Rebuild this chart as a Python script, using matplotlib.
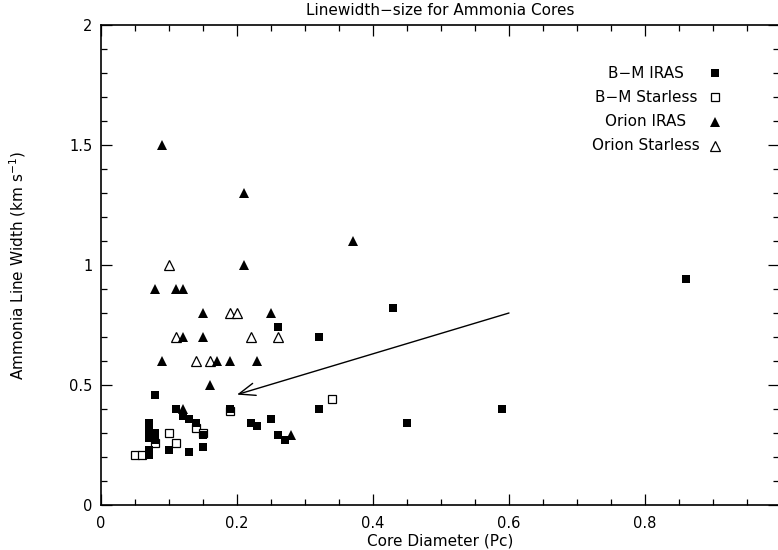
import matplotlib
matplotlib.use("Agg")
import matplotlib.pyplot as plt
from matplotlib.ticker import MultipleLocator, FixedLocator

# Core diameter (pc) and NH3 line width (km/s) for each sample
bm_iras_size = [0.07, 0.07, 0.07, 0.07, 0.07, 0.08, 0.08, 0.08, 0.10, 0.11,
                0.12, 0.13, 0.13, 0.14, 0.15, 0.15, 0.19, 0.22, 0.23, 0.25,
                0.26, 0.27, 0.26, 0.32, 0.32, 0.43, 0.45, 0.59, 0.86]
bm_iras_width = [0.34, 0.31, 0.28, 0.23, 0.21, 0.30, 0.27, 0.46, 0.23, 0.40,
                 0.37, 0.36, 0.22, 0.34, 0.29, 0.24, 0.40, 0.34, 0.33, 0.36,
                 0.29, 0.27, 0.74, 0.70, 0.40, 0.82, 0.34, 0.40, 0.94]

bm_starless_size = [0.05, 0.06, 0.08, 0.10, 0.11, 0.14, 0.15, 0.19, 0.34]
bm_starless_width = [0.21, 0.21, 0.26, 0.30, 0.26, 0.32, 0.30, 0.39, 0.44]

orion_iras_size = [0.09, 0.21, 0.37, 0.21, 0.08, 0.11, 0.12, 0.15, 0.25,
                   0.12, 0.15, 0.09, 0.17, 0.19, 0.23, 0.16, 0.12, 0.28]
orion_iras_width = [1.50, 1.30, 1.10, 1.00, 0.90, 0.90, 0.90, 0.80, 0.80,
                    0.70, 0.70, 0.60, 0.60, 0.60, 0.60, 0.50, 0.40, 0.29]

orion_starless_size = [0.10, 0.19, 0.20, 0.11, 0.22, 0.26, 0.14, 0.16]
orion_starless_width = [1.00, 0.80, 0.80, 0.70, 0.70, 0.70, 0.60, 0.60]

# Arrow (tail -> head) in data units
arrow_tail = (0.6, 0.8)
arrow_head = (0.2, 0.46)

legend_labels = ["B\u2212M IRAS", "B\u2212M Starless", "Orion IRAS", "Orion Starless"]

plt.rcParams["font.family"] = ["DejaVu Sans"]
plt.rcParams["font.size"] = 10

fig = plt.figure(figsize=(7.78, 5.5), dpi=100)
ax = fig.add_axes([101 / 778, 45 / 550, 678 / 778, 480 / 550])

# open symbols first, solid ones on top
ax.plot(bm_starless_size, bm_starless_width, linestyle="none", marker="s",
        markersize=5.6, markerfacecolor="white", markeredgecolor="black",
        markeredgewidth=0.9, zorder=3)
ax.plot(orion_starless_size, orion_starless_width, linestyle="none", marker="^",
        markersize=6.8, markerfacecolor="white", markeredgecolor="black",
        markeredgewidth=0.9, zorder=3)
ax.plot(bm_iras_size, bm_iras_width, linestyle="none", marker="s",
        markersize=6.2, color="black", markeredgewidth=0, zorder=4)
ax.plot(orion_iras_size, orion_iras_width, linestyle="none", marker="^",
        markersize=7.0, color="black", markeredgewidth=0, zorder=4)

ax.annotate("", xy=arrow_head, xytext=arrow_tail,
            arrowprops=dict(arrowstyle="->,head_length=1.3,head_width=0.5",
                            lw=1.0, color="black", mutation_scale=9,
                            shrinkA=0, shrinkB=0))

ax.set_xlim(0, 678 / 680)
ax.set_ylim(0, 2)

ax.xaxis.set_major_locator(FixedLocator([0, 0.2, 0.4, 0.6, 0.8]))
ax.xaxis.set_minor_locator(MultipleLocator(0.05))
ax.yaxis.set_major_locator(FixedLocator([0, 0.5, 1, 1.5, 2]))
ax.yaxis.set_minor_locator(MultipleLocator(0.1))
ax.set_xticklabels(["0", "0.2", "0.4", "0.6", "0.8"])
ax.set_yticklabels(["0", "0.5", "1", "1.5", "2"])

ax.tick_params(which="both", direction="in", top=True, right=True,
               colors="black", labelsize=10.5, width=0.9)
ax.tick_params(which="major", length=8, pad=6)
ax.tick_params(axis="x", which="major", pad=8)
ax.tick_params(which="minor", length=4)
for s in ax.spines.values():
    s.set_linewidth(1.2)

ax.set_xlabel("Core Diameter (Pc)", fontsize=11, labelpad=2)
ax.set_ylabel("Ammonia Line Width (km s$^{-1}$)", fontsize=11, labelpad=30)
ax.set_title("Linewidth\u2212size for Ammonia Cores", fontsize=11, pad=7)

# key in the upper right
styles = [dict(marker="s", markersize=6.2, color="black", markeredgewidth=0),
          dict(marker="s", markersize=5.6, markerfacecolor="white",
               markeredgecolor="black", markeredgewidth=0.9),
          dict(marker="^", markersize=7.0, color="black", markeredgewidth=0),
          dict(marker="^", markersize=6.8, markerfacecolor="white",
               markeredgecolor="black", markeredgewidth=0.9)]
text_x = (646 - 101) / 678
mark_x = (715 - 101) / 678
for i, (lab, st) in enumerate(zip(legend_labels, styles)):
    yy = (505 - (73 + 24.3 * i)) / 480
    ax.text(text_x, yy, lab, transform=ax.transAxes, ha="center", va="center",
            fontsize=11)
    ax.plot([mark_x], [yy], transform=ax.transAxes, linestyle="none",
            clip_on=False, **st)

fig.savefig("out.png", dpi=100)
